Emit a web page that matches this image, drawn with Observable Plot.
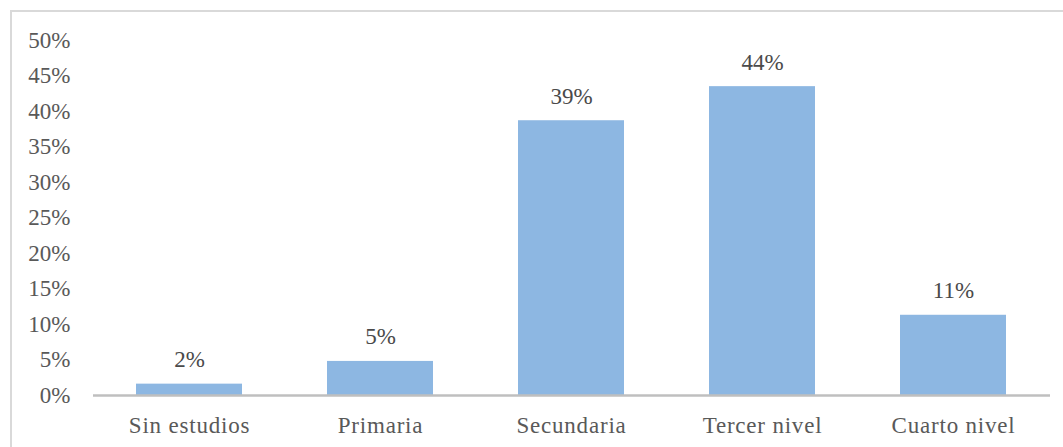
<!DOCTYPE html>
<html>
<head>
<meta charset="utf-8">
<script src="https://cdn.jsdelivr.net/npm/d3@7"></script>
<script src="https://cdn.jsdelivr.net/npm/@observablehq/plot@0.6"></script>
<style>
  html, body { margin: 0; padding: 0; background: #fff; }
  #wrap { position: relative; width: 1063px; height: 447px; overflow: hidden; }
  #border { position: absolute; left: 10px; top: 10px; width: 1100px; height: 500px;
            border-left: 2px solid #D9D9D9; border-top: 2px solid #D9D9D9; pointer-events: none; }
  #wrap svg, #wrap svg text { font-family: "Liberation Serif", "DejaVu Serif", serif !important; }
  #wrap g[aria-label="x-axis tick label"] text { letter-spacing: 0.8px; }
</style>
</head>
<body>
<div id="wrap"><div id="border"></div></div>
<script>
const categories = ["Sin estudios", "Primaria", "Secundaria", "Tercer nivel", "Cuarto nivel"];
const values = [1.6, 4.8, 38.7, 43.5, 11.3];
const labels = ["2%", "5%", "39%", "44%", "11%"];
const yTicks = [0, 5, 10, 15, 20, 25, 30, 35, 40, 45, 50];

const data = categories.map((c, i) => ({cat: c, v: values[i], label: labels[i]}));

const chart = Plot.plot({
  width: 1063,
  height: 447,
  marginLeft: 93,
  marginRight: 13,
  marginTop: 40,
  marginBottom: 52,
  style: {fontFamily: "Liberation Serif, serif", fontSize: "23px", color: "#595959", background: "transparent"},
  x: {domain: categories, paddingInner: 0.445, paddingOuter: 0.2225, label: null, tickSize: 0, tickPadding: 21},
  y: {domain: [0, 50], ticks: yTicks, tickFormat: d => d + "%", label: null, tickSize: 0, tickPadding: 23},
  marks: [
    Plot.barY(data, {x: "cat", y: "v", fill: "#8DB7E2"}),
    Plot.ruleY([0], {stroke: "#BFBFBF", strokeWidth: 2.5}),
    Plot.text(data, {x: "cat", y: "v", text: "label", lineAnchor: "bottom", dy: -17, fill: "#4A4A4A", fontSize: 23})
  ]
});
document.getElementById("wrap").prepend(chart);
chart.style.position = "absolute";
chart.style.left = "0";
chart.style.top = "0";
</script>
</body>
</html>
